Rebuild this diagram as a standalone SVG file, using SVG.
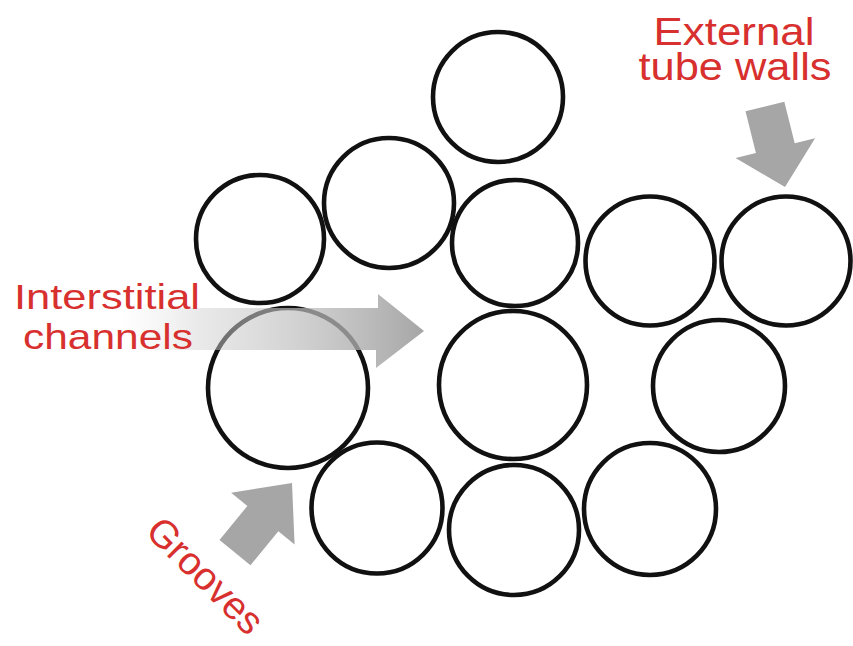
<svg xmlns="http://www.w3.org/2000/svg" width="853" height="646" viewBox="0 0 853 646">
  <style>
    .tube { fill: none; stroke: #111; stroke-width: 4.6; }
    .label { font-family: "Liberation Sans", Arial, sans-serif; fill: #d7302e; text-anchor: middle; }
    .pointer { fill: #a6a6a6; }
  </style>
  <defs>
    <linearGradient id="channelFill" gradientUnits="userSpaceOnUse" x1="120" y1="0" x2="424" y2="0">
      <stop offset="0" stop-color="#e0e0e0" stop-opacity="0"/>
      <stop offset="0.25" stop-color="#d0d0d0" stop-opacity="0.45"/>
      <stop offset="0.6" stop-color="#bcbcbc" stop-opacity="0.7"/>
      <stop offset="1" stop-color="#9c9c9c" stop-opacity="0.9"/>
    </linearGradient>
  </defs>
  <rect width="853" height="646" fill="#fff"/>

  <!-- tube cross-sections -->
  <g id="tube-top"><circle class="tube" cx="498" cy="97" r="65"/></g>
  <g id="tube-r1-a"><circle class="tube" cx="260" cy="239" r="64"/></g>
  <g id="tube-r1-b"><circle class="tube" cx="389" cy="203" r="65"/></g>
  <g id="tube-r1-c"><circle class="tube" cx="515" cy="243" r="63"/></g>
  <g id="tube-r1-d"><circle class="tube" cx="650" cy="261" r="64.5"/></g>
  <g id="tube-r1-e"><circle class="tube" cx="786" cy="261" r="64.5"/></g>
  <g id="tube-mid-left"><circle class="tube" cx="288" cy="388" r="80"/></g>
  <g id="tube-mid-center"><circle class="tube" cx="513" cy="385" r="74"/></g>
  <g id="tube-mid-right"><circle class="tube" cx="719" cy="386" r="66"/></g>
  <g id="tube-low-a"><circle class="tube" cx="377" cy="508" r="65.5"/></g>
  <g id="tube-low-b"><circle class="tube" cx="514" cy="530" r="65"/></g>
  <g id="tube-low-c"><circle class="tube" cx="650" cy="509" r="66"/></g>

  <!-- pointer arrows -->
  <g id="pointers">
    <path fill="url(#channelFill)" d="M120,308 L378,308 L378,294 L424,331 L376,368 L376,350 L120,350 Z"/>
    <path class="pointer" transform="translate(785,187) rotate(76)" d="M0,0 L-40,-41 L-40,-20 L-83,-20 L-83,20 L-40,20 L-40,41 Z"/>
    <path class="pointer" transform="translate(292,483) rotate(-50.7)" d="M0,0 L-46,-41 L-46,-20 L-90,-20 L-90,20 L-46,20 L-46,41 Z"/>
  </g>

  <!-- labels -->
  <g id="label-channels" font-size="35">
    <text class="label" x="107" y="309" textLength="186" lengthAdjust="spacingAndGlyphs">Interstitial</text>
    <text class="label" x="108" y="349" textLength="170" lengthAdjust="spacingAndGlyphs">channels</text>
  </g>
  <g id="label-walls" font-size="38">
    <text class="label" x="734" y="45" textLength="161" lengthAdjust="spacingAndGlyphs">External</text>
    <text class="label" x="735" y="80" textLength="193" lengthAdjust="spacingAndGlyphs">tube walls</text>
  </g>
  <g id="label-grooves" font-size="39">
    <text class="label" transform="translate(196,585) rotate(45)" x="0" y="0">Grooves</text>
  </g>
</svg>
